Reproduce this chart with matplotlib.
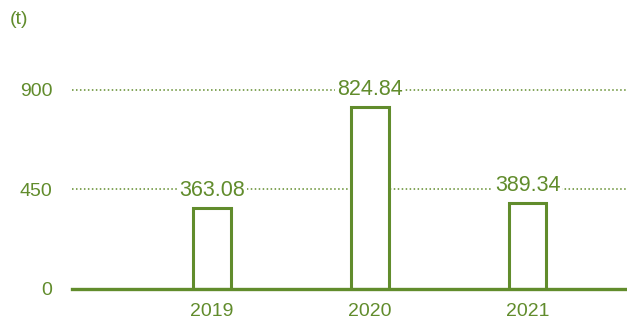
import matplotlib.pyplot as plt

plt.rcParams["font.family"] = ["Liberation Sans", "DejaVu Sans"]

# Data
years = ["2019", "2020", "2021"]
values = [363.08, 824.84, 389.34]
yticks = [0, 450, 900]

green = "#618c2c"

fig = plt.figure(figsize=(6.27, 3.22), dpi=100)
ax = fig.add_axes([72 / 627, 33.5 / 322, 1 - 72 / 627, (288.5 - 90) / 322])

x = list(range(len(years)))

# grid lines (dotted) and baseline
for t in yticks[1:]:
    ax.axhline(t, color=green, linestyle=(0, (1, 1.6)), linewidth=1.1,
               zorder=1, clip_on=False)
ax.axhline(0, color=green, linewidth=2.4, zorder=3, clip_on=False)

# hollow bars
ax.bar(x, values, width=0.24, facecolor="white", edgecolor=green,
       linewidth=2.2, zorder=2)

# value labels
for xi, v in zip(x, values):
    ax.annotate(f"{v:.2f}", (xi, v), xytext=(0, 5), textcoords="offset points",
                ha="center", va="bottom", fontsize=15.5, color=green,
                bbox=dict(facecolor="white", edgecolor="none", pad=1.5),
                zorder=4)

ax.set_xlim(-0.886, 2.63)
ax.set_ylim(0, 900)
ax.set_xticks(x)
ax.set_xticklabels(years)
ax.set_yticks(yticks)
ax.set_yticklabels([str(t) for t in yticks])
ax.tick_params(axis="both", length=0, labelsize=14, labelcolor=green)
ax.tick_params(axis="y", pad=14)
ax.tick_params(axis="x", pad=10.5)

for s in ax.spines.values():
    s.set_visible(False)

fig.text(10 / 627, 1 - 20 / 322, "(t)", fontsize=14, color=green,
         ha="left", va="center")

fig.savefig("out.png", dpi=100)
